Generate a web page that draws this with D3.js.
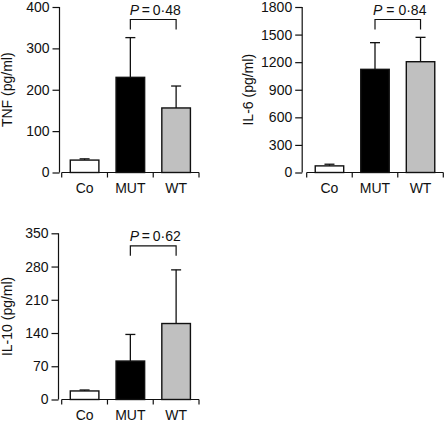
<!DOCTYPE html>
<html><head><meta charset="utf-8">
<script src="https://cdn.jsdelivr.net/npm/d3@7"></script>
<style>body{margin:0;background:#fff}svg{display:block}text{font-family:"Liberation Sans",Arial,sans-serif;fill:#111}</style>
</head><body>
<svg id="c" width="444" height="424"></svg>
<script>
const categories = ["Co", "MUT", "WT"];
const fills = ["#ffffff", "#000000", "#c0c0c0"];
const tnfValues = [30, 230, 156];
const tnfErrors = [33, 326, 209];
const tnfTicks = [0, 100, 200, 300, 400];
const il6Values = [72, 1122, 1205];
const il6Errors = [90, 1412, 1470];
const il6Ticks = [0, 300, 600, 900, 1200, 1500, 1800];
const il10Values = [18, 81, 160];
const il10Errors = [20, 137, 273];
const il10Ticks = [0, 70, 140, 210, 280, 350];
const panels = [
  {label:"TNF (pg/ml)", values:tnfValues, errors:tnfErrors, ticks:tnfTicks, p:"\u2009=\u20090·48",
   yAxisX:59.5, x0:61.7, x1:199, yTop:7, yBot:172.5, labelX:7},
  {label:"IL-6 (pg/ml)", values:il6Values, errors:il6Errors, ticks:il6Ticks, p:" = 0·84",
   yAxisX:302.2, x0:306.7, x1:443.3, yTop:7, yBot:172.5, labelX:248},
  {label:"IL-10 (pg/ml)", values:il10Values, errors:il10Errors, ticks:il10Ticks, p:"\u2009=\u20090·62",
   yAxisX:58.5, x0:61.7, x1:199, yTop:233.3, yBot:399.5, labelX:7.5}
];
const svg = d3.select("#c");
panels.forEach(P => {
  const g = svg.append("g");
  const y = d3.scaleLinear().domain([0, d3.max(P.ticks)]).range([P.yBot, P.yTop]);
  const xb = d3.scaleBand().domain(categories).range([P.x0, P.x1]).padding(0);
  const x = d3.scaleBand().domain(categories).range([P.x0, P.x1]).paddingInner(0.375).paddingOuter(0.1875);
  // y axis
  const ya = g.append("g").attr("transform", `translate(${P.yAxisX},0)`)
    .call(d3.axisLeft(y).tickValues(P.ticks).tickFormat(d3.format("d")).tickSize(7).tickPadding(3));
  ya.select(".domain").attr("d", `M0,${P.yBot}V${P.yTop}`).attr("stroke","#111").attr("stroke-width",1.2);
  ya.selectAll(".tick line").attr("stroke","#111").attr("stroke-width",1.2);
  ya.selectAll("text").style("font-size","14px").attr("fill","#111");
  // x axis
  const xa = g.append("g").attr("transform", `translate(0,${P.yBot})`);
  xa.append("path").attr("d", `M${P.x0},0H${P.x1}`).attr("stroke","#111").attr("stroke-width",1.2).attr("fill","none");
  const bounds = categories.map(c => xb(c)).concat([xb(categories[2]) + xb.bandwidth()]);
  xa.selectAll("line.tk").data(bounds).join("line").attr("class","tk")
    .attr("x1", d=>d).attr("x2", d=>d).attr("y1",0).attr("y2",5).attr("stroke","#111").attr("stroke-width",1.2);
  xa.selectAll("text").data(categories).join("text")
    .attr("x", c => xb(c) + xb.bandwidth()/2).attr("y", 20.5).attr("text-anchor","middle")
    .style("font-size","14px").text(c=>c);
  // error bars
  const eb = g.append("g");
  categories.forEach((c,i) => {
    const cx = x(c) + x.bandwidth()/2;
    eb.append("line").attr("x1",cx).attr("x2",cx).attr("y1",y(P.values[i])).attr("y2",y(P.errors[i]))
      .attr("stroke","#111").attr("stroke-width",1.3);
    eb.append("line").attr("x1",cx-5).attr("x2",cx+5).attr("y1",y(P.errors[i])).attr("y2",y(P.errors[i]))
      .attr("stroke","#111").attr("stroke-width",1.3);
  });
  // bars
  g.append("g").selectAll("rect").data(categories).join("rect")
    .attr("x", c => x(c)).attr("width", x.bandwidth())
    .attr("y", (c,i) => y(P.values[i])).attr("height", (c,i) => P.yBot - y(P.values[i]))
    .attr("fill", (c,i) => fills[i]).attr("stroke","#111").attr("stroke-width",1.4);
  // bracket
  const mx = x("MUT") + x.bandwidth()/2, wx = x("WT") + x.bandwidth()/2;
  const by = P.yTop + 12.5, bl = 10;
  g.append("path").attr("d", `M${mx},${by+bl}V${by}H${wx}V${by+bl}`)
    .attr("fill","none").attr("stroke","#111").attr("stroke-width",1.2);
  const t = g.append("text").attr("x", (mx+wx)/2 + 2).attr("y", by - 5).attr("text-anchor","middle").style("font-size","14px");
  t.append("tspan").attr("font-style","italic").text("P");
  t.append("tspan").text(P.p);
  // y label
  g.append("text").attr("transform", `translate(${P.labelX},${(P.yTop+P.yBot)/2}) rotate(-90)`)
    .attr("text-anchor","middle").attr("dy","0.35em").style("font-size","14px").text(P.label);
});
</script>
</body></html>
